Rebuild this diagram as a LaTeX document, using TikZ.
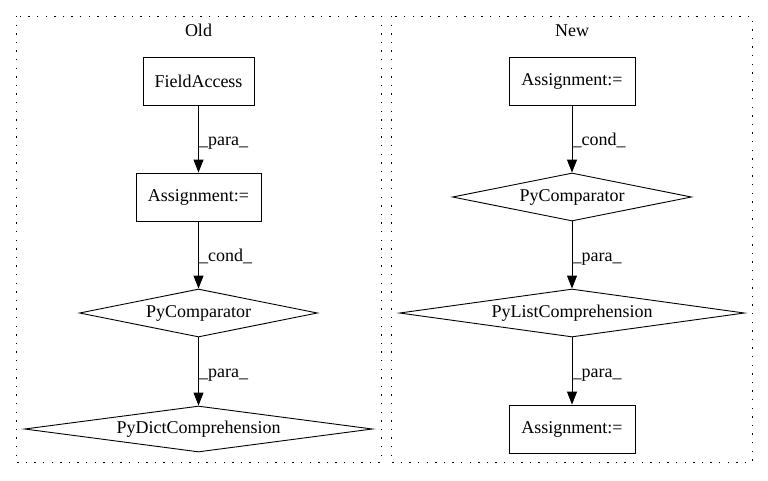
\documentclass[tikz,border=0pt]{standalone}
\usepackage{fontspec}
\setmainfont{Liberation Serif}
\usetikzlibrary{shapes.geometric,arrows.meta}
\begin{document}
\begin{tikzpicture}[x=1pt,y=-1pt,
  font=\fontsize{18}{21}\selectfont,
  cluster/.style={draw,line width=1pt,dash pattern=on 1.4pt off 7.2pt},
  boxnode/.style={draw,line width=0.9pt,rectangle,inner sep=0pt,minimum height=48pt},
  dia/.style={draw,line width=0.9pt,diamond,inner sep=0pt},
  arr/.style={line width=0.9pt,-{Triangle[length=13pt,width=10pt]}},
  elabel/.style={anchor=base west,inner sep=0pt},
  clabel/.style={anchor=base,inner sep=0pt}]
\useasboundingbox (0,0) rectangle (768,480);
% clusters
\draw[cluster] (16,16) rectangle (381,462);
\draw[cluster] (391,16) rectangle (752,462);
\node[clabel] (oldlab) at (198.5,36) {Old};
\node[clabel] (newlab) at (572,36) {New};
% Old
\node[boxnode,minimum width=111pt] (fa) at (198.5,81) {FieldAccess};
\node[boxnode,minimum width=125pt] (as1) at (198.5,197) {Assignment:=};
\node[dia,minimum width=238pt,minimum height=48pt,aspect=4.96] (pc1) at (198.5,313) {PyComparator};
\node[dia,minimum width=348pt,minimum height=46pt,aspect=7.56] (pd) at (198.5,429) {PyDictComprehension};
\draw[arr] (fa) -- (as1);
\draw[arr] (as1) -- (pc1);
\draw[arr] (pc1) -- (pd);
\node[elabel] (l1) at (199,145) {\_para\_};
\node[elabel] (l2) at (199,261) {\_cond\_};
\node[elabel] (l3) at (199,377.5) {\_para\_};
% New
\node[boxnode,minimum width=126pt] (as2) at (572,81) {Assignment:=};
\node[dia,minimum width=239pt,minimum height=48pt,aspect=4.98] (pc2) at (572,197) {PyComparator};
\node[dia,minimum width=345pt,minimum height=48pt,aspect=7.19] (pl) at (572,313) {PyListComprehension};
\node[boxnode,minimum width=126pt] (as3) at (572,429) {Assignment:=};
\draw[arr] (as2) -- (pc2);
\draw[arr] (pc2) -- (pl);
\draw[arr] (pl) -- (as3);
\node[elabel] (l4) at (572.5,145) {\_cond\_};
\node[elabel] (l5) at (572.5,261) {\_para\_};
\node[elabel] (l6) at (572.5,377.5) {\_para\_};
\end{tikzpicture}
\end{document}
